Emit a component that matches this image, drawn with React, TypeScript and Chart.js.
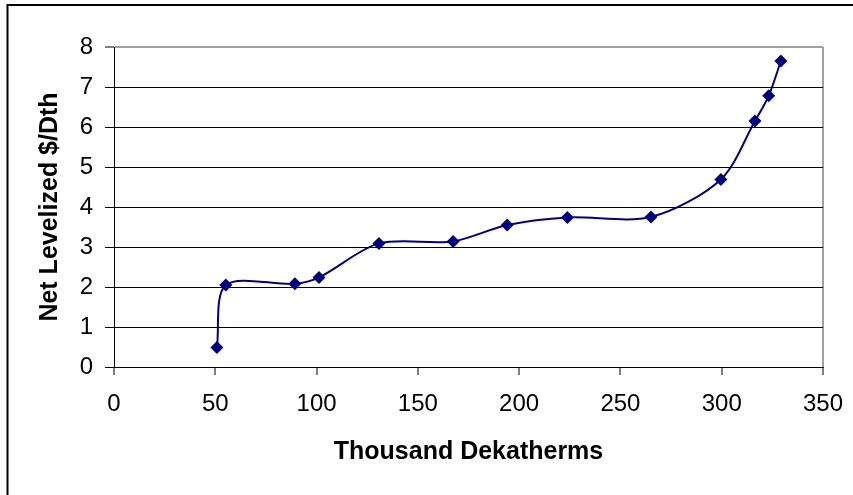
import React, { useEffect, useRef } from "react";
import { Chart, registerables } from "chart.js";

Chart.register(...registerables);

const xValues = [50.8, 55.2, 89.3, 101.2, 130.8, 167.4, 194.1, 223.8, 265.1, 299.6, 316.4, 323.2, 329.2];
const yValues = [0.49, 2.05, 2.08, 2.24, 3.09, 3.14, 3.55, 3.74, 3.75, 4.69, 6.15, 6.78, 7.65];
const xTitle = "Thousand Dekatherms";
const yTitle = "Net Levelized $/Dth";

const W = 853;
const H = 495;
const NAVY = "#000080";
const FONT = "'Liberation Sans', Arial, sans-serif";

const framePlugin = {
  id: "frame",
  beforeDraw(chart: any) {
    const { ctx } = chart;
    ctx.save();
    ctx.fillStyle = "#ffffff";
    ctx.fillRect(0, 0, chart.width, chart.height);
    ctx.strokeStyle = "#000000";
    ctx.lineWidth = 2;
    ctx.strokeRect(7.5, 5, chart.width + 20, chart.height + 20);
    ctx.restore();
  },
};

export default function App() {
  const ref = useRef<HTMLCanvasElement | null>(null);
  useEffect(() => {
    if (!ref.current) return;
    const points = xValues.map((x, i) => ({ x, y: yValues[i] }));
    const chart = new Chart(ref.current, {
      type: "scatter",
      data: {
        datasets: [
          {
            data: points,
            showLine: true,
            borderColor: NAVY,
            borderWidth: 2,
            backgroundColor: NAVY,
            pointStyle: "rectRot",
            pointRadius: 6.5,
            pointBorderWidth: 0,
            tension: 0.3,
          },
        ],
      },
      options: {
        responsive: false,
        animation: false,
        events: [],
        layout: { padding: { left: 0, top: 47, right: 30, bottom: 0 } },
        plugins: { legend: { display: false }, tooltip: { enabled: false } },
        scales: {
          x: {
            type: "linear",
            min: 0,
            max: 350,
            afterFit(scale: any) {
              scale.height = 128;
              scale.paddingLeft = 0;
              scale.paddingRight = 0;
            },
            ticks: {
              stepSize: 50,
              color: "#000000",
              padding: 15,
              maxRotation: 0,
              font: { family: FONT, size: 24 },
            },
            grid: {
              drawOnChartArea: true,
              tickLength: 8,
              color: (ctx: any) => (ctx.tick && ctx.tick.value === 350 ? "#a0a0a0" : "rgba(0,0,0,0)"),
              tickColor: "#000000",
              lineWidth: 2,
              tickWidth: 1,
            },
            border: { color: "#000000", width: 1 },
            title: {
              display: true,
              text: xTitle,
              color: "#000000",
              font: { family: FONT, size: 25, weight: "bold" },
              padding: { top: 0, bottom: 28 },
            },
          },
          y: {
            type: "linear",
            min: 0,
            max: 8,
            afterFit(scale: any) {
              scale.width = 114;
              scale.paddingTop = 0;
              scale.paddingBottom = 0;
            },
            ticks: {
              stepSize: 1,
              color: "#000000",
              padding: 12,
              font: { family: FONT, size: 24 },
            },
            grid: {
              tickLength: 9,
              color: (ctx: any) => (ctx.tick && ctx.tick.value === 8 ? "#a0a0a0" : "#000000"),
              lineWidth: (ctx: any) => (ctx.tick && ctx.tick.value === 8 ? 2 : 1),
              tickColor: "#000000",
              tickWidth: 1,
            },
            border: { color: "#000000", width: 1 },
            title: {
              display: true,
              text: yTitle,
              color: "#000000",
              font: { family: FONT, size: 25, weight: "bold" },
              padding: { top: 35, bottom: 0 },
            },
          },
        },
      },
      plugins: [framePlugin],
    } as any);
    return () => chart.destroy();
  }, []);
  return (
    <div style={{ position: "fixed", left: 0, top: 0, width: W, height: H }}>
      <canvas ref={ref} width={W} height={H} style={{ width: W, height: H, display: "block" }} />
    </div>
  );
}
